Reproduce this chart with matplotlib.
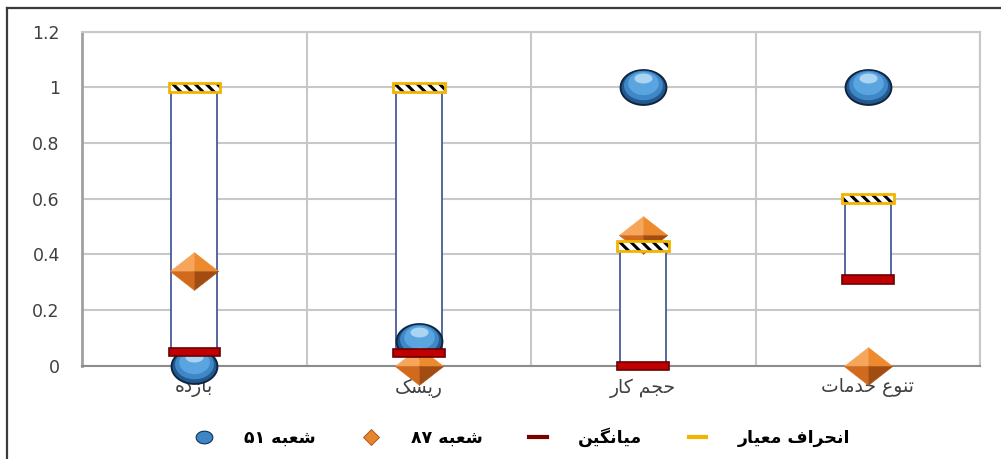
import re
import numpy as np
import matplotlib
matplotlib.use('Agg')
import matplotlib.pyplot as plt
from matplotlib.path import Path
from matplotlib.lines import Line2D
from matplotlib.transforms import ScaledTranslation

plt.rcParams['hatch.linewidth'] = 2.2

categories = ['بازده', 'ریسک', 'حجم کار', 'تنوع خدمات']
branch_51 = [0.0, 0.087, 1.0, 1.0]
branch_87 = [0.34, 0.0, 0.47, 0.0]
mean_vals = [0.05, 0.045, 0.0, 0.31]
std_vals = [1.0, 1.0, 0.43, 0.60]
yticks = [0, 0.2, 0.4, 0.6, 0.8, 1, 1.2]
ytick_labels = ['0', '0.2', '0.4', '0.6', '0.8', '1', '1.2']
legend_labels = ['شعبه ۵۱', 'شعبه ۸۷', 'میانگین', 'انحراف معیار']

# presentation forms: isolated, final, initial, medial
FORMS = {
    'ا': '\uFE8D\uFE8E',
    'ب': '\uFE8F\uFE90\uFE91\uFE92',
    'ت': '\uFE95\uFE96\uFE97\uFE98',
    'ج': '\uFE9D\uFE9E\uFE9F\uFEA0',
    'ح': '\uFEA1\uFEA2\uFEA3\uFEA4',
    'خ': '\uFEA5\uFEA6\uFEA7\uFEA8',
    'د': '\uFEA9\uFEAA',
    'ر': '\uFEAD\uFEAE',
    'ز': '\uFEAF\uFEB0',
    'س': '\uFEB1\uFEB2\uFEB3\uFEB4',
    'ش': '\uFEB5\uFEB6\uFEB7\uFEB8',
    'ع': '\uFEC9\uFECA\uFECB\uFECC',
    'ف': '\uFED1\uFED2\uFED3\uFED4',
    'م': '\uFEE1\uFEE2\uFEE3\uFEE4',
    'ن': '\uFEE5\uFEE6\uFEE7\uFEE8',
    'ه': '\uFEE9\uFEEA\uFEEB\uFEEC',
    'و': '\uFEED\uFEEE',
    'ی': '\uFBFC\uFBFD\uFBFE\uFBFF',
    'ک': '\uFB8E\uFB8F\uFB90\uFB91',
    'گ': '\uFB92\uFB93\uFB94\uFB95',
}


def shape(text):
    # join letters and lay them out right to left (no bidi engine in matplotlib)
    out = []
    for i, ch in enumerate(text):
        forms = FORMS.get(ch)
        if forms is None:
            out.append(ch)
            continue
        prev = text[i - 1] if i > 0 else ''
        nxt = text[i + 1] if i + 1 < len(text) else ''
        join_prev = len(FORMS.get(prev, '')) == 4
        join_next = len(forms) == 4 and nxt in FORMS
        if join_prev and join_next:
            out.append(forms[3])
        elif join_prev:
            out.append(forms[1])
        elif join_next:
            out.append(forms[2])
        else:
            out.append(forms[0])
    vis = ''.join(reversed(out))
    return re.sub(r'[0-9\u06F0-\u06F9]+', lambda m: m.group(0)[::-1], vis)


# squashed ball and faceted diamond markers
t = np.linspace(0, 2 * np.pi, 80)
ball = Path(np.column_stack([np.cos(t), 0.76 * np.sin(t)]), closed=True)
shine = Path(np.column_stack([np.cos(t), 0.55 * np.sin(t)]), closed=True)
dh = 0.78
facets = [
    (Path([(0, 0), (-1, 0), (0, dh), (0, 0)]), '#F5A65A'),
    (Path([(0, 0), (0, dh), (1, 0), (0, 0)]), '#EE8A2E'),
    (Path([(0, 0), (-1, 0), (0, -dh), (0, 0)]), '#D26A1E'),
    (Path([(0, 0), (0, -dh), (1, 0), (0, 0)]), '#A24C12'),
]

fig = plt.figure(figsize=(10.01, 4.59), dpi=100)
ax = fig.add_axes([0.082, 0.2033, 0.897, 0.7277])

x = np.arange(1, len(categories) + 1)

# box between mean and std dev
ax.bar(x, np.array(std_vals) - np.array(mean_vals), bottom=mean_vals, width=0.205,
       facecolor='white', edgecolor='#3A4E8C', linewidth=1.2, zorder=2)

# branch 51 balls
up = lambda pts: ax.transData + ScaledTranslation(0, pts / 72, fig.dpi_scale_trans)
ax.plot(x, branch_51, linestyle='none', marker=ball, markersize=33,
        markerfacecolor='#24598F', markeredgecolor='#0E2540', markeredgewidth=1.4,
        zorder=4, clip_on=False)
ax.plot(x, branch_51, linestyle='none', marker=ball, markersize=28,
        markerfacecolor='#3F88C8', markeredgewidth=0, zorder=4, clip_on=False,
        transform=up(1.5))
ax.plot(x, branch_51, linestyle='none', marker=ball, markersize=22,
        markerfacecolor='#5AA5E0', markeredgewidth=0, zorder=4, clip_on=False,
        transform=up(3))
ax.plot(x, branch_51, linestyle='none', marker=shine, markersize=13,
        markerfacecolor='#B4DAF5', markeredgewidth=0, zorder=4, alpha=0.9,
        clip_on=False, transform=up(6.5))

# branch 87 diamonds
for p, c in facets:
    ax.plot(x, branch_87, linestyle='none', marker=p, markersize=35,
            markerfacecolor=c, markeredgecolor=c, markeredgewidth=0.3,
            zorder=5, clip_on=False)

# mean and std dev bars
mh, sh = 0.03, 0.034
ax.bar(x, mh, bottom=np.array(mean_vals) - mh / 2, width=0.23,
       facecolor='#C00000', edgecolor='#6B0000', linewidth=1.2, zorder=6, clip_on=False)
ax.bar(x, sh, bottom=np.array(std_vals) - sh / 2, width=0.23,
       facecolor='white', edgecolor='black', linewidth=0, hatch='\\\\\\', zorder=6)
ax.bar(x, sh, bottom=np.array(std_vals) - sh / 2, width=0.23,
       fill=False, edgecolor='#F2B400', linewidth=2, zorder=6)

ax.set_xlim(0.5, len(categories) + 0.5)
ax.set_ylim(0, 1.2)
ax.set_yticks(yticks)
ax.set_yticklabels(ytick_labels, fontsize=12.5, color='#404040')
ax.set_xticks(x)
ax.set_xticklabels([shape(c) for c in categories], fontsize=13.5, color='#404040')
ax.set_xticks(np.arange(0.5, len(categories) + 1), minor=True)
ax.tick_params(axis='y', length=0, pad=16)
ax.tick_params(axis='x', which='both', length=0, pad=9)
ax.grid(axis='y', color='#C8C8C8', linewidth=1.5)
ax.grid(axis='x', which='minor', color='#C8C8C8', linewidth=1.5)
ax.set_axisbelow(True)
for side in ['top', 'right']:
    ax.spines[side].set_color('#C8C8C8')
    ax.spines[side].set_linewidth(1.5)
ax.spines['left'].set_color('#A0A0A0')
ax.spines['left'].set_linewidth(2)
ax.spines['bottom'].set_color('#8C8C8C')
ax.spines['bottom'].set_linewidth(1.5)

handles = [
    Line2D([], [], linestyle='none', marker=ball, markersize=12,
           markerfacecolor='#3C86C8', markeredgecolor='#14304F', markeredgewidth=0.8),
    Line2D([], [], linestyle='none', marker='D', markersize=8,
           markerfacecolor='#E8842C', markeredgecolor='#A24C12', markeredgewidth=0.6),
    Line2D([], [], color='#7A0000', linewidth=3),
    Line2D([], [], color='#F2B400', linewidth=3),
]
fig.legend(handles, [shape(s) for s in legend_labels], loc='center',
           bbox_to_anchor=(0.522, 0.048), ncol=4, frameon=False, handlelength=1.0,
           handletextpad=1.8, columnspacing=2.7,
           prop={'weight': 'bold', 'size': 12.5})

# outer frame along top and left
fig.add_artist(Line2D([0.007, 1.0], [1 - 8 / 459, 1 - 8 / 459], color='#3A3A3A', linewidth=1.6))
fig.add_artist(Line2D([0.007, 0.007], [0, 1 - 8 / 459], color='#3A3A3A', linewidth=1.6))

fig.savefig('out.png', dpi=100)
